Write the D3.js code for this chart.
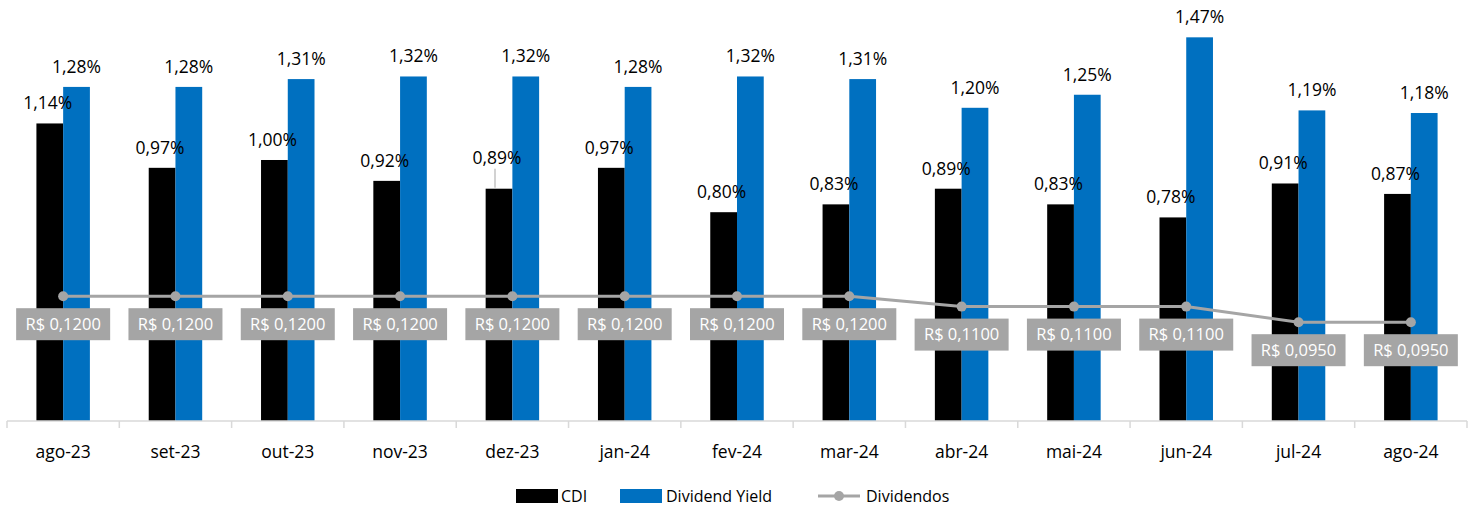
<!DOCTYPE html>
<html>
<head>
<meta charset="utf-8">
<script src="https://cdn.jsdelivr.net/npm/d3@7"></script>
<style>
  body { margin: 0; background: #fff; }
  svg { font-family: "Open Sans", "Noto Sans", sans-serif; }
</style>
</head>
<body>
<div id="chart"></div>
<script>
//-- data
const months = ["ago-23", "set-23", "out-23", "nov-23", "dez-23", "jan-24", "fev-24",
  "mar-24", "abr-24", "mai-24", "jun-24", "jul-24", "ago-24"];
const cdi = [1.14, 0.97, 1.00, 0.92, 0.89, 0.97, 0.80, 0.83, 0.89, 0.83, 0.78, 0.91, 0.87];
const dividendYield = [1.28, 1.28, 1.31, 1.32, 1.32, 1.28, 1.32, 1.31, 1.20, 1.25, 1.47, 1.19, 1.18];
const dividendos = [0.12, 0.12, 0.12, 0.12, 0.12, 0.12, 0.12, 0.12, 0.11, 0.11, 0.11, 0.095, 0.095];
const seriesNames = ["CDI", "Dividend Yield"];
const colors = ["#000000", "#0070C0"];
const lineColor = "#A5A5A5";

//-- dimensions
const width = 1475;
const height = 514;
const margin = { top: 0, right: 8, bottom: 93, left: 7 };
const baseY = height - margin.bottom;

const fmtPct = (v) => v.toFixed(2).replace(".", ",") + "%";
const fmtBRL = (v) => "R$ " + v.toFixed(4).replace(".", ",");

const svg = d3.select("#chart").append("svg")
  .attr("width", width)
  .attr("height", height);

const x = d3.scaleBand().domain(months).range([margin.left, width - margin.right]);
const xInner = d3.scaleBand().domain(seriesNames).range([0, x.bandwidth()])
  .paddingOuter(1.1).paddingInner(0);
const y = d3.scaleLinear().domain([0, 1.613]).range([baseY, 0]);
const y2 = d3.scaleLinear().domain([0, 0.4048]).range([baseY, 0]);

const rows = months.map((m, i) => ({ month: m, values: [cdi[i], dividendYield[i]], div: dividendos[i] }));

//-- bars
const groups = svg.append("g").selectAll("g").data(rows).join("g")
  .attr("transform", (d) => `translate(${x(d.month)},0)`);

groups.selectAll("rect")
  .data((d) => d.values.map((v, j) => ({ key: seriesNames[j], v, j })))
  .join("rect")
  .attr("x", (d) => xInner(d.key))
  .attr("width", xInner.bandwidth())
  .attr("y", (d) => y(d.v))
  .attr("height", (d) => baseY - y(d.v))
  .attr("fill", (d) => colors[d.j]);

//-- value labels
groups.selectAll("text.val")
  .data((d) => d.values.map((v, j) => ({ key: seriesNames[j], v, j, month: d.month })))
  .join("text")
  .attr("class", "val")
  .attr("x", (d) => xInner(d.key) + xInner.bandwidth() / 2 + (d.j === 0 ? -2 : 0))
  .attr("y", (d) => y(d.v) - (d.month === "dez-23" && d.j === 0 ? 25 : 14))
  .attr("text-anchor", "middle")
  .attr("font-size", 17.5)
  .attr("fill", "#000")
  .text((d) => fmtPct(d.v));

//-- leader line for dez-23 CDI label
const dez = rows[4];
svg.append("line")
  .attr("x1", x(dez.month) + xInner("CDI") + xInner.bandwidth() / 2 - 4)
  .attr("x2", x(dez.month) + xInner("CDI") + xInner.bandwidth() / 2 - 4)
  .attr("y1", y(dez.values[0]) - 20)
  .attr("y2", y(dez.values[0]) - 1)
  .attr("stroke", "#A5A5A5")
  .attr("stroke-width", 1);

//-- x axis
const axis = svg.append("g").attr("transform", `translate(0,${baseY})`);
axis.append("line")
  .attr("x1", margin.left).attr("x2", width - margin.right)
  .attr("stroke", "#D9D9D9").attr("stroke-width", 1.5);
axis.selectAll("line.tick")
  .data(months.concat([null]))
  .join("line")
  .attr("class", "tick")
  .attr("x1", (d) => d ? x(d) : width - margin.right)
  .attr("x2", (d) => d ? x(d) : width - margin.right)
  .attr("y1", 0).attr("y2", 7)
  .attr("stroke", "#D9D9D9").attr("stroke-width", 1.5);
axis.selectAll("text")
  .data(months)
  .join("text")
  .attr("x", (d) => x(d) + x.bandwidth() / 2)
  .attr("y", 37)
  .attr("text-anchor", "middle")
  .attr("font-size", 17.5)
  .attr("fill", "#000")
  .text((d) => d);

//-- dividendos line
const cx = (d) => x(d.month) + x.bandwidth() / 2;
svg.append("path")
  .datum(rows)
  .attr("d", d3.line().x(cx).y((d) => y2(d.div)))
  .attr("fill", "none")
  .attr("stroke", lineColor)
  .attr("stroke-width", 3);
svg.append("g").selectAll("circle").data(rows).join("circle")
  .attr("cx", cx)
  .attr("cy", (d) => y2(d.div))
  .attr("r", 5)
  .attr("fill", lineColor);

//-- dividendos labels
const lbl = svg.append("g").selectAll("g").data(rows).join("g")
  .attr("transform", (d) => `translate(${cx(d)},${y2(d.div) + 28})`);
lbl.append("rect")
  .attr("x", -47).attr("y", -16)
  .attr("width", 94).attr("height", 32)
  .attr("fill", lineColor);
lbl.append("text")
  .attr("text-anchor", "middle")
  .attr("dy", "0.35em")
  .attr("font-size", 16.5)
  .attr("fill", "#fff")
  .text((d) => fmtBRL(d.div));

//-- legend
const legend = svg.append("g").attr("transform", `translate(0,${height - 18})`);
legend.append("rect").attr("x", 516).attr("y", -7).attr("width", 42).attr("height", 14).attr("fill", colors[0]);
legend.append("text").attr("x", 561).attr("dy", "0.35em").attr("font-size", 16).text("CDI");
legend.append("rect").attr("x", 620).attr("y", -7).attr("width", 42).attr("height", 14).attr("fill", colors[1]);
legend.append("text").attr("x", 666).attr("dy", "0.35em").attr("font-size", 16).text("Dividend Yield");
legend.append("line").attr("x1", 818).attr("x2", 860).attr("stroke", lineColor).attr("stroke-width", 3);
legend.append("circle").attr("cx", 839).attr("r", 5).attr("fill", lineColor);
legend.append("text").attr("x", 866).attr("dy", "0.35em").attr("font-size", 16).text("Dividendos");
</script>
</body>
</html>
